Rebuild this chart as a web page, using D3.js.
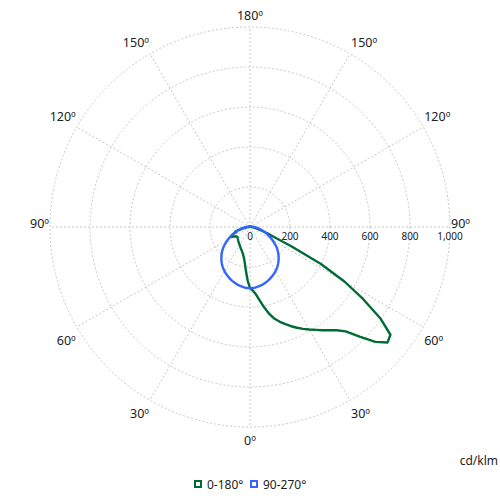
<!DOCTYPE html>
<html><head><meta charset="utf-8">
<script src="https://cdn.jsdelivr.net/npm/d3@7"></script>
<style>body{margin:0;background:#fff}svg{display:block;font-family:"Noto Sans",sans-serif}</style>
</head><body><svg id="c" width="500" height="500"></svg>
<script>
// Data (cd/klm), gamma angles in degrees
const gammas = [0,2.5,5,7.5,10,12.5,15,17.5,20,22.5,25,27.5,30,32.5,35,37.5,40,42.5,45,47.5,50,52.5,55,57.5,60,62.5,65,67.5,70,72.5,75,77.5,80,82.5,85,87.5,90,
  95,100,105,110,115,120,125,130,135,140,145,150,155,160,165,170,175,180];
const c0 = [305,318,338,370,408,445,475,497,517,537,556,574,592,610,630,650,674,708,775,850,898,885,795,670,545,400,230,130,90,62,45,35,27,20,15,11,8,
  6,5,4,4,3,3,3,3,2,2,2,2,2,2,2,2,2,2];
const c180 = [305,268,225,190,165,150,138,130,123,118,113,108,104,100,97,94,91,88,85,83,81,80,82,88,96,108,102,88,72,78,52,40,30,22,16,12,9,
  7,6,5,4,4,3,3,3,3,2,2,2,2,2,2,2,2,2];
const c90 = [305,305,304,301,298,295,290,285,280,274,268,262,255,248,240,231,222,212,202,191,180,168,155,141,128,116,104,93,82,72,62,53,45,38,31,25,20,
  15,12,9,7,6,5,4,4,3,3,3,2,2,2,2,2,2,2];
const c270 = c90.slice();
const seriesNames = ["0-180°","90-270°"];
const seriesColors = ["#006b35","#3366ff"];
const radialTicks = [200,400,600,800,1000];
const angleTicks = [0,30,60,90,120,150,180];

const svg = d3.select("#c");
const cx = 250, cy = 227, R = 200;
const r = d3.scaleLinear().domain([0,1000]).range([0,R]);
const g = svg.append("g").attr("transform",`translate(${cx},${cy})`);

// grid circles
g.selectAll("circle.grid").data(radialTicks).join("circle")
  .attr("r", d=>r(d)).attr("fill","none").attr("stroke","#c8c8c8")
  .attr("stroke-width",1).attr("stroke-dasharray","2,2");
// spokes every 30 degrees
g.selectAll("line.spoke").data(d3.range(0,360,30)).join("line")
  .attr("x1",0).attr("y1",0)
  .attr("x2",d=>R*Math.sin(d*Math.PI/180)).attr("y2",d=>R*Math.cos(d*Math.PI/180))
  .attr("stroke","#c8c8c8").attr("stroke-width",1).attr("stroke-dasharray","2,2");

// radial tick labels
const fmt = d3.format(",");
g.selectAll("text.rt").data([0].concat(radialTicks)).join("text")
  .attr("x",d=>r(d)).attr("y",13).attr("text-anchor","middle")
  .attr("font-size",10).attr("fill","#222").text(d=>fmt(d));

// angle labels
function labelPos(a, side){
  const rad = a*Math.PI/180;
  const x = side*R*Math.sin(rad), y = R*Math.cos(rad);
  let dy;
  if (a < 90) dy = 18;
  else if (a === 90) dy = 0.5;
  else dy = -Math.min(7, Math.abs(Math.cos(rad))*12);
  return {x, y: y+dy};
}
const angleLabelData = [];
angleTicks.forEach(a=>{
  if (a===0 || a===180) angleLabelData.push({a, side:0});
  else { angleLabelData.push({a, side:1}); angleLabelData.push({a, side:-1}); }
});
g.selectAll("text.at").data(angleLabelData).join("text")
  .attr("x",d=>{const p=labelPos(d.a, d.side||1); return d.side===0?0:p.x + d.side*1;})
  .attr("y",d=>{const p=labelPos(d.a, 1); return p.y;})
  .attr("text-anchor",d=>d.side===0?"middle":(d.side>0?"start":"end"))
  .attr("font-size",12.5).attr("fill","#222").text(d=>d.a+"º");

// curves: right side theta = PI - gamma, left side theta = PI + gamma
const toRad = d=>d*Math.PI/180;
function loop(rightVals, leftVals){
  const pts = [];
  gammas.forEach((gm,i)=>pts.push([Math.PI - toRad(gm), r(rightVals[i])]));
  for (let i=gammas.length-1;i>=0;i--) pts.push([Math.PI + toRad(gammas[i]), r(leftVals[i])]);
  return pts;
}
const line = d3.lineRadial().angle(d=>d[0]).radius(d=>d[1]).curve(d3.curveLinearClosed);
const series = [loop(c0,c180), loop(c90,c270)];
g.selectAll("path.s").data(series).join("path")
  .attr("d", line).attr("fill","none")
  .attr("stroke",(d,i)=>seriesColors[i]).attr("stroke-width",2.4)
  .attr("stroke-linejoin","round");

// unit label
svg.append("text").attr("x",498).attr("y",465).attr("text-anchor","end")
  .attr("font-size",12).attr("fill","#222").text("cd/klm");

// legend
const legX = [198, 254];
const lg = svg.selectAll("g.leg").data(seriesNames).join("g")
  .attr("transform",(d,i)=>`translate(${legX[i]},484)`);
lg.append("rect").attr("x",-3).attr("y",-3).attr("width",6).attr("height",6)
  .attr("fill","#fff").attr("stroke",(d,i)=>seriesColors[i]).attr("stroke-width",2);
lg.append("text").attr("x",9).attr("y",4.5).attr("font-size",12).attr("fill","#222").text(d=>d);
</script></body></html>
